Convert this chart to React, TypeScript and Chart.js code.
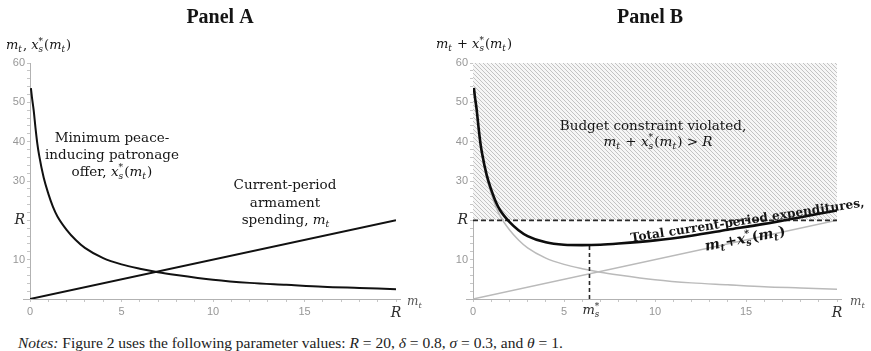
import React, { useEffect, useRef } from 'react';
import { Chart, registerables } from 'chart.js';

Chart.register(...registerables);

// ---------------- data ----------------
const armamentM = [0.05, 0.1, 0.2, 0.3, 0.4, 0.5, 0.75, 1, 1.25, 1.5, 2, 2.5, 3, 4, 5, 6, 7, 8, 10, 12, 14, 16, 18, 20];
const patronageOffer = [53.6, 51.5, 48, 43.5, 39.5, 36.5, 30.8, 26.8, 23.5, 21, 17.6, 15, 13, 10.4, 8.8, 7.7, 6.8, 6.1, 4.9, 4.1, 3.6, 3.1, 2.8, 2.5];
const totalExpenditure = [53.65, 51.6, 48.2, 43.8, 39.9, 37, 31.55, 27.8, 24.75, 22.5, 19.6, 17.5, 16, 14.4, 13.8, 13.7, 13.8, 14.1, 14.9, 16.1, 17.6, 19.1, 20.8, 22.5];
const armamentLineM = [0, 20];
const armamentLineSpend = [0, 20];
const budgetLineM = [0, 20];
const budgetR = 20;
const optimalM = 6.4;
const optimalTotal = 13.7;
const violatedTop = 60;
const xTickValues = [0, 5, 10, 15, 20];
const xTickLabels = ['0', '5', '10', '15', 'R'];
const yTickValues = [10, 20, 30, 40, 50, 60];
const yTickLabels = ['10', 'R', '30', '40', '50', '60'];

// ---------------- styling ----------------
const SERIF = '"DejaVu Serif", serif';
const TITLE = '"Liberation Serif", serif';
const SANS = '"Liberation Sans", Arial, sans-serif';
const INK = '#151515';
const AXIS = '#b2b2b2';

type Seg = { t?: string; sub?: string; sup?: string; i?: boolean };

function segFont(size: number, it: boolean | undefined, bold: boolean, family: string) {
  return `${it ? 'italic ' : ''}${bold ? 'bold ' : ''}${size}px ${family}`;
}

function richWidth(ctx: CanvasRenderingContext2D, segs: Seg[], size: number, family: string, bold: boolean) {
  let w = 0;
  for (const s of segs) {
    if (s.t != null) {
      ctx.font = segFont(size, s.i, bold, family);
      w += ctx.measureText(s.t).width;
    } else {
      ctx.font = segFont(size * 0.68, s.i, bold, family);
      w += Math.max(s.sub ? ctx.measureText(s.sub).width : 0, s.sup ? ctx.measureText(s.sup).width : 0) + size * 0.08;
    }
  }
  return w;
}

function drawRich(ctx: CanvasRenderingContext2D, segs: Seg[], x: number, y: number, size: number, family: string, color: string, align: string, bold = false) {
  const w = richWidth(ctx, segs, size, family, bold);
  let cx = align === 'center' ? x - w / 2 : align === 'right' ? x - w : x;
  ctx.fillStyle = color;
  ctx.textAlign = 'left';
  ctx.textBaseline = 'alphabetic';
  for (const s of segs) {
    if (s.t != null) {
      ctx.font = segFont(size, s.i, bold, family);
      ctx.fillText(s.t, cx, y);
      cx += ctx.measureText(s.t).width;
    } else {
      ctx.font = segFont(size * 0.68, s.i, bold, family);
      let adv = 0;
      if (s.sub) { ctx.fillText(s.sub, cx, y + size * 0.22); adv = ctx.measureText(s.sub).width; }
      if (s.sup) { ctx.fillText(s.sup, cx, y - size * 0.42); adv = Math.max(adv, ctx.measureText(s.sup).width); }
      cx += adv + size * 0.08;
    }
  }
  return w;
}

function fitSize(ctx: CanvasRenderingContext2D, segs: Seg[], family: string, bold: boolean, target: number) {
  const base = 14;
  return (base * target) / richWidth(ctx, segs, base, family, bold);
}

const mt: Seg[] = [{ t: 'm', i: true }, { sub: 't', i: true }];
const xs: Seg[] = [{ t: 'x', i: true }, { sub: 's', sup: '*', i: true }];
const xsOfMt: Seg[] = [...xs, { t: '(' }, ...mt, { t: ')' }];

function labelFor(vals: number[], labels: string[], v: number) {
  const i = vals.indexOf(v);
  return i >= 0 ? labels[i] : '';
}

function makeScales(yWidth: number) {
  const tickFont = (c: any) =>
    c.tick && c.tick.value === 20 ? { family: SERIF, size: 14, style: 'italic' } : { family: SANS, size: 11 };
  const tickColor = (c: any) => (c.tick && c.tick.value === 20 ? '#2a2a2a' : '#979797');
  return {
    x: {
      type: 'linear',
      min: 0,
      max: 20,
      afterFit: (s: any) => { s.height = 25; },
      ticks: {
        stepSize: 1,
        autoSkip: false,
        maxRotation: 0,
        minRotation: 0,
        padding: 3,
        callback: (v: any) => labelFor(xTickValues, xTickLabels, Number(v)),
        font: tickFont,
        color: tickColor,
      },
      grid: { drawOnChartArea: false, drawTicks: true, tickLength: 3, color: '#c6c6c6' },
      border: { display: true, color: AXIS, width: 1 },
    },
    y: {
      type: 'linear',
      min: 0,
      max: 60,
      afterFit: (s: any) => { s.width = yWidth; },
      ticks: {
        stepSize: 2,
        autoSkip: false,
        padding: 2,
        callback: (v: any) => labelFor(yTickValues, yTickLabels, Number(v)),
        font: tickFont,
        color: tickColor,
      },
      grid: { drawOnChartArea: false, drawTicks: true, tickLength: 3, color: '#c6c6c6' },
      border: { display: true, color: AXIS, width: 1 },
    },
  };
}

const pts = (xsArr: number[], ysArr: number[]) => xsArr.map((x, i) => ({ x, y: ysArr[i] }));

function axisExtension(chart: any) {
  const ctx: CanvasRenderingContext2D = chart.ctx;
  const a = chart.chartArea;
  ctx.save();
  ctx.strokeStyle = AXIS;
  ctx.lineWidth = 1;
  ctx.beginPath();
  ctx.moveTo(a.left - 7, Math.round(a.bottom) + 0.5);
  ctx.lineTo(a.right + 5, Math.round(a.bottom) + 0.5);
  ctx.stroke();
  ctx.restore();
}

const annotA = {
  id: 'annotA',
  afterDraw(chart: any) {
    axisExtension(chart);
    const ctx: CanvasRenderingContext2D = chart.ctx;
    ctx.save();
    ctx.font = `bold 20px ${TITLE}`;
    ctx.textAlign = 'center';
    ctx.textBaseline = 'alphabetic';
    ctx.fillStyle = INK;
    ctx.fillText('Panel A', 220, 23);

    drawRich(ctx, [...mt, { t: ', ' }, ...xsOfMt], 6, 49, 13, SERIF, INK, 'left');

    const fs = 13.5;
    drawRich(ctx, [{ t: 'Minimum peace-' }], 112, 142, fs, SERIF, INK, 'center');
    drawRich(ctx, [{ t: 'inducing patronage' }], 112, 159, fs, SERIF, INK, 'center');
    drawRich(ctx, [{ t: 'offer, ' }, ...xsOfMt], 112, 176, fs, SERIF, INK, 'center');

    drawRich(ctx, [{ t: 'Current-period' }], 285, 189, fs, SERIF, INK, 'center');
    drawRich(ctx, [{ t: 'armament' }], 285, 207, fs, SERIF, INK, 'center');
    drawRich(ctx, [{ t: 'spending, ' }, ...mt], 286, 224, fs, SERIF, INK, 'center');

    drawRich(ctx, mt, 407, 305, 12, SERIF, '#555', 'left');
    ctx.restore();
  },
};

const annotB = {
  id: 'annotB',
  afterDraw(chart: any) {
    axisExtension(chart);
    const ctx: CanvasRenderingContext2D = chart.ctx;
    const xScale = chart.scales.x;
    ctx.save();
    ctx.font = `bold 20px ${TITLE}`;
    ctx.textAlign = 'center';
    ctx.textBaseline = 'alphabetic';
    ctx.fillStyle = INK;
    ctx.fillText('Panel B', 218, 23);

    drawRich(ctx, [...mt, { t: ' + ' }, ...xsOfMt], 4, 48, 13, SERIF, INK, 'left');

    const fs = 13.5;
    drawRich(ctx, [{ t: 'Budget constraint violated,' }], 221, 130, fs, SERIF, INK, 'center');
    drawRich(ctx, [...mt, { t: ' + ' }, ...xsOfMt, { t: ' > ' }, { t: 'R', i: true }], 226, 146, fs, SERIF, INK, 'center');

    // rotated labels along the total-expenditure curve
    const totalSegs: Seg[] = [{ t: 'Total current-period expenditures,' }];
    const s1 = fitSize(ctx, totalSegs, SERIF, true, 236);
    ctx.save();
    ctx.translate(316, 224);
    ctx.rotate((-8.6 * Math.PI) / 180);
    drawRich(ctx, totalSegs, 0, 0, s1, SERIF, INK, 'center', true);
    ctx.restore();

    const sumSegs: Seg[] = [...mt, { t: '+' }, ...xsOfMt];
    const s2 = fitSize(ctx, sumSegs, SERIF, true, 82);
    ctx.save();
    ctx.translate(314, 243);
    ctx.rotate((-11 * Math.PI) / 180);
    drawRich(ctx, sumSegs, 0, 0, s2, SERIF, INK, 'center', true);
    ctx.restore();

    // m_s* tick label
    const px = xScale.getPixelForValue(optimalM);
    drawRich(ctx, [{ t: 'm', i: true }, { sub: 's', sup: '*', i: true }], px - 7, 314, 13, SERIF, '#2a2a2a', 'left');

    drawRich(ctx, mt, 418, 305, 12, SERIF, '#555', 'left');
    ctx.restore();
  },
};

function makeHatch(ctx: CanvasRenderingContext2D) {
  const c = document.createElement('canvas');
  c.width = 4;
  c.height = 4;
  const g = c.getContext('2d')!;
  g.fillStyle = '#f6f6f6';
  g.fillRect(0, 0, 4, 4);
  g.strokeStyle = '#c3c3c3';
  g.lineWidth = 1;
  g.beginPath();
  g.moveTo(-1, -1); g.lineTo(5, 5);
  g.moveTo(-1, 3); g.lineTo(1, 5);
  g.moveTo(3, -1); g.lineTo(5, 1);
  g.stroke();
  return ctx.createPattern(c, 'repeat');
}

export default function App() {
  const refA = useRef<HTMLCanvasElement | null>(null);
  const refB = useRef<HTMLCanvasElement | null>(null);

  useEffect(() => {
    const common = {
      responsive: false,
      animation: false,
      events: [],
      plugins: { legend: { display: false }, tooltip: { enabled: false }, title: { display: false } },
    };

    const chartA = new Chart(refA.current!, {
      type: 'line',
      data: {
        datasets: [
          {
            data: pts(armamentM, patronageOffer),
            borderColor: '#111',
            borderWidth: 2,
            pointRadius: 0,
            cubicInterpolationMode: 'monotone',
            fill: false,
          },
          {
            data: pts(armamentLineM, armamentLineSpend),
            borderColor: '#111',
            borderWidth: 2,
            pointRadius: 0,
            fill: false,
          },
        ],
      },
      options: {
        ...common,
        layout: { padding: { left: 0, right: 36, top: 63, bottom: 6 } },
        scales: makeScales(30),
      } as any,
      plugins: [annotA],
    } as any);

    const ctxB = refB.current!.getContext('2d')!;
    const hatch = makeHatch(ctxB);

    const chartB = new Chart(refB.current!, {
      type: 'line',
      data: {
        datasets: [
          {
            data: pts(armamentM, totalExpenditure),
            borderColor: '#0d0d0d',
            borderWidth: 2.6,
            pointRadius: 0,
            cubicInterpolationMode: 'monotone',
            fill: false,
          },
          {
            data: pts([optimalM, optimalM], [0, optimalTotal]),
            borderColor: '#2a2a2a',
            borderWidth: 1.6,
            borderDash: [4, 3],
            pointRadius: 0,
            fill: false,
          },
          {
            data: pts(budgetLineM, [budgetR, budgetR]),
            borderColor: '#2a2a2a',
            borderWidth: 1.6,
            borderDash: [5, 3],
            pointRadius: 0,
            fill: false,
          },
          {
            data: pts(armamentM, patronageOffer),
            borderColor: '#bababa',
            borderWidth: 1.5,
            pointRadius: 0,
            cubicInterpolationMode: 'monotone',
            fill: false,
          },
          {
            data: pts(armamentLineM, armamentLineSpend),
            borderColor: '#bababa',
            borderWidth: 1.5,
            pointRadius: 0,
            fill: false,
          },
          {
            data: pts(budgetLineM, [violatedTop, violatedTop]),
            borderWidth: 0,
            borderColor: 'rgba(0,0,0,0)',
            backgroundColor: hatch,
            pointRadius: 0,
            fill: { value: budgetR },
          },
        ],
      },
      options: {
        ...common,
        layout: { padding: { left: 0, right: 34, top: 63, bottom: 6 } },
        scales: makeScales(41),
      } as any,
      plugins: [annotB],
    } as any);

    return () => {
      chartA.destroy();
      chartB.destroy();
    };
  }, []);

  return (
    <div style={{ position: 'fixed', left: 0, top: 0, width: 871, height: 351, background: '#fff', overflow: 'hidden' }}>
      <canvas ref={refA} width={432} height={330} style={{ position: 'absolute', left: 0, top: 0 }} />
      <canvas ref={refB} width={439} height={330} style={{ position: 'absolute', left: 432, top: 0 }} />
      <div
        style={{
          position: 'absolute',
          left: 18,
          top: 334,
          font: '15.5px "Liberation Serif", serif',
          lineHeight: '17px',
          color: '#222',
          whiteSpace: 'nowrap',
        }}
      >
        <i>Notes:</i> Figure 2 uses the following parameter values: <i>R</i> = 20, <i>δ</i> = 0.8, <i>σ</i> = 0.3, and <i>θ</i> = 1.
      </div>
    </div>
  );
}
